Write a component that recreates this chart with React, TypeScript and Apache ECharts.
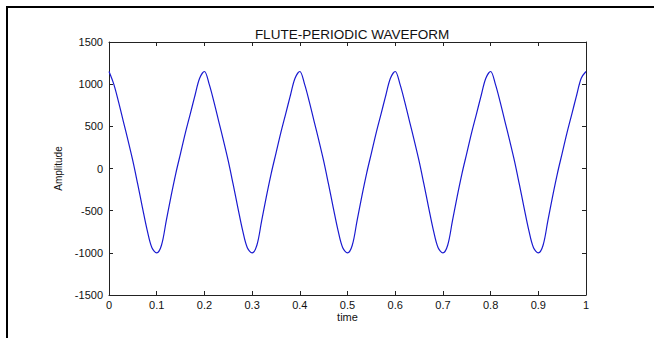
import React, { useEffect, useRef } from "react";
import * as echarts from "echarts";

const TITLE = "FLUTE-PERIODIC WAVEFORM";
const X_NAME = "time";
const Y_NAME = "Amplitude";
const X_TICKS = [0, 0.1, 0.2, 0.3, 0.4, 0.5, 0.6, 0.7, 0.8, 0.9, 1];
const Y_TICKS = [-1500, -1000, -500, 0, 500, 1000, 1500];
const TIME_STEP = 0.01;
const AMPLITUDE = [
  1150, 1000, 790, 560, 330, 90, -180, -460, -730, -940,
  -1000, -910, -620, -330, -60, 180, 420, 640, 860, 1070,
  1150, 1000, 790, 560, 330, 90, -180, -460, -730, -940,
  -1000, -910, -620, -330, -60, 180, 420, 640, 860, 1070,
  1150, 1000, 790, 560, 330, 90, -180, -460, -730, -940,
  -1000, -910, -620, -330, -60, 180, 420, 640, 860, 1070,
  1150, 1000, 790, 560, 330, 90, -180, -460, -730, -940,
  -1000, -910, -620, -330, -60, 180, 420, 640, 860, 1070,
  1150, 1000, 790, 560, 330, 90, -180, -460, -730, -940,
  -1000, -910, -620, -330, -60, 180, 420, 640, 860, 1070,
  1150,
];

export default function App() {
  const ref = useRef<HTMLDivElement>(null);
  useEffect(() => {
    document.body.style.margin = "0";
    if (!ref.current) return;
    const chart = echarts.init(ref.current, undefined, { renderer: "svg" });
    const data = AMPLITUDE.map((v, i) => [Number((i * TIME_STEP).toFixed(2)), v]);
    const font = "'Liberation Sans', Arial, sans-serif";
    const axisColor = "#222";
    const baseX = {
      type: "value",
      min: X_TICKS[0],
      max: X_TICKS[X_TICKS.length - 1],
      interval: 0.1,
      splitLine: { show: false },
      axisLine: { show: true, onZero: false, lineStyle: { color: axisColor, width: 1 } },
      axisTick: { show: true, inside: true, length: 4, lineStyle: { color: axisColor } },
    };
    const baseY = {
      type: "value",
      min: Y_TICKS[0],
      max: Y_TICKS[Y_TICKS.length - 1],
      interval: 500,
      splitLine: { show: false },
      axisLine: { show: true, onZero: false, lineStyle: { color: axisColor, width: 1 } },
      axisTick: { show: true, inside: true, length: 4, lineStyle: { color: axisColor } },
    };
    chart.setOption({
      animation: false,
      backgroundColor: "#fff",
      title: {
        text: TITLE,
        left: 347,
        textAlign: "center",
        top: 22,
        textStyle: { fontFamily: font, fontSize: 13.5, fontWeight: "normal", color: "#111" },
      },
      grid: { left: 109, right: 68, top: 42, bottom: 43 },
      xAxis: [
        {
          ...baseX,
          position: "bottom",
          name: X_NAME,
          nameLocation: "middle",
          nameGap: 16,
          nameMoveOverlap: false,
          nameTextStyle: { fontFamily: font, fontSize: 11, color: "#111" },
          axisLabel: {
            fontFamily: font,
            fontSize: 11,
            color: "#111",
            margin: 4,
            formatter: (v: number) => String(Number(v.toFixed(1))),
          },
        },
        {
          ...baseX,
          position: "top",
          axisLabel: { show: false },
        },
      ],
      yAxis: [
        {
          ...baseY,
          position: "left",
          name: Y_NAME,
          nameLocation: "middle",
          nameGap: 46,
          nameMoveOverlap: false,
          nameTextStyle: { fontFamily: font, fontSize: 10, color: "#111" },
          axisLabel: {
            fontFamily: font,
            fontSize: 11,
            color: "#111",
            margin: 6,
            formatter: (v: number) => String(v),
          },
        },
        {
          ...baseY,
          position: "right",
          axisLabel: { show: false },
        },
      ],
      series: [
        {
          type: "line",
          data,
          xAxisIndex: 0,
          yAxisIndex: 0,
          smooth: 0.35,
          showSymbol: false,
          lineStyle: { color: "#1a1ad0", width: 1.2 },
        },
      ],
      graphic: [
        { type: "rect", shape: { x: 6, y: 6, width: 648, height: 2 }, style: { fill: "#000" } },
        { type: "rect", shape: { x: 6, y: 6, width: 2, height: 332 }, style: { fill: "#000" } },
      ],
    });
    return () => chart.dispose();
  }, []);
  return <div ref={ref} style={{ width: 654, height: 338 }} />;
}
